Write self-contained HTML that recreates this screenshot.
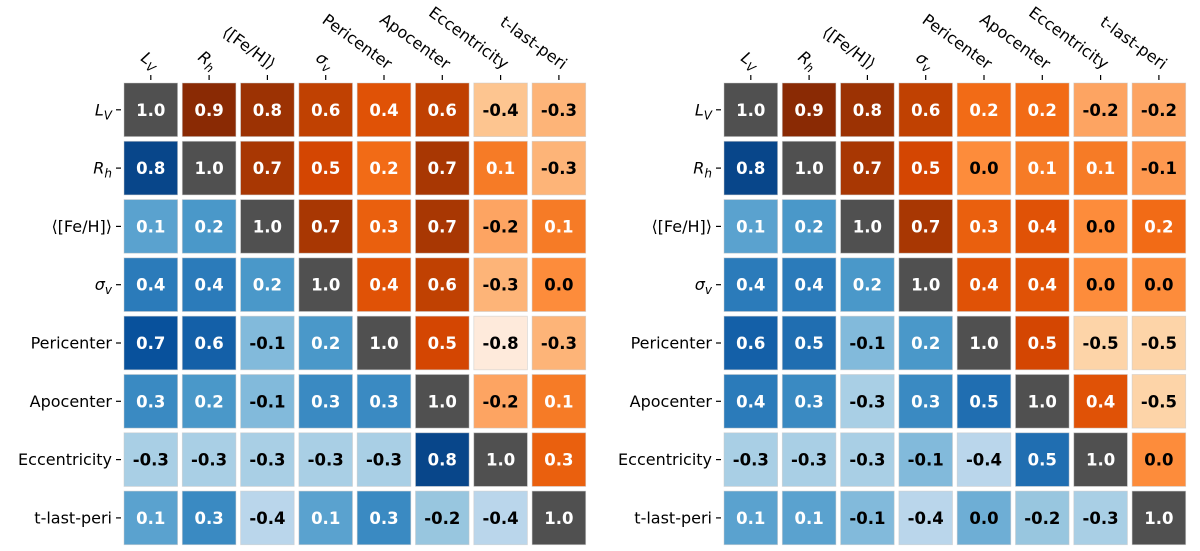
<!DOCTYPE html>
<html><head><meta charset="utf-8">
<style>
html,body{margin:0;padding:0;background:#fff;}
svg{display:block;font-family:"DejaVu Sans","Liberation Sans",sans-serif;}
</style></head>
<body>
<svg id="chart" width="1200" height="551" viewBox="0 0 1200 551" xmlns="http://www.w3.org/2000/svg"></svg>
<script>
const variables = ["L_V","R_h","FeH","sigma_v","Pericenter","Apocenter","Eccentricity","t-last-peri"];
const leftValues = [
 [1.0,0.9,0.8,0.6,0.4,0.6,-0.4,-0.3],
 [0.8,1.0,0.7,0.5,0.2,0.7,0.1,-0.3],
 [0.1,0.2,1.0,0.7,0.3,0.7,-0.2,0.1],
 [0.4,0.4,0.2,1.0,0.4,0.6,-0.3,0.0],
 [0.7,0.6,-0.1,0.2,1.0,0.5,-0.8,-0.3],
 [0.3,0.2,-0.1,0.3,0.3,1.0,-0.2,0.1],
 [-0.3,-0.3,-0.3,-0.3,-0.3,0.8,1.0,0.3],
 [0.1,0.3,-0.4,0.1,0.3,-0.2,-0.4,1.0]
];
const rightValues = [
 [1.0,0.9,0.8,0.6,0.2,0.2,-0.2,-0.2],
 [0.8,1.0,0.7,0.5,0.0,0.1,0.1,-0.1],
 [0.1,0.2,1.0,0.7,0.3,0.4,0.0,0.2],
 [0.4,0.4,0.2,1.0,0.4,0.4,0.0,0.0],
 [0.6,0.5,-0.1,0.2,1.0,0.5,-0.5,-0.5],
 [0.4,0.3,-0.3,0.3,0.5,1.0,0.4,-0.5],
 [-0.3,-0.3,-0.3,-0.1,-0.4,0.5,1.0,0.0],
 [0.1,0.1,-0.1,-0.4,0.0,-0.2,-0.3,1.0]
];

const blueStops = [[-1,"#f7fbff"],[-0.4,"#bad6eb"],[-0.3,"#a9cfe5"],[-0.2,"#98c6df"],[-0.1,"#82badb"],[0.1,"#5aa2cf"],[0.2,"#4a98c9"],[0.3,"#3a8ac2"],[0.4,"#2b7bba"],[0.6,"#1460a8"],[0.7,"#08519c"],[0.8,"#08468a"],[1,"#08306b"]];
const orangeStops = [[-1,"#fff5eb"],[-0.8,"#feeadb"],[-0.5,"#fdd4a8"],[-0.4,"#fdc590"],[-0.3,"#fdb478"],[-0.2,"#fda462"],[0,"#fd8c3b"],[0.1,"#f67b26"],[0.2,"#f26b16"],[0.3,"#ea600e"],[0.4,"#e05206"],[0.5,"#d44602"],[0.6,"#c04102"],[0.7,"#a83703"],[0.8,"#9c3203"],[0.9,"#8a2a04"],[1,"#7f2704"]];
function hx(c){return [1,3,5].map(i=>parseInt(c.substr(i,2),16));}
function interp(stops,v){
  v=Math.max(-1,Math.min(1,v));
  for(let i=0;i<stops.length-1;i++){
    const [a,ca]=stops[i],[b,cb]=stops[i+1];
    if(v>=a&&v<=b){const t=(v-a)/(b-a||1);const A=hx(ca),B=hx(cb);
      return "rgb("+A.map((x,k)=>Math.round(x+(B[k]-x)*t)).join(",")+")";}
  }
  return stops[stops.length-1][1];
}
const NS="http://www.w3.org/2000/svg";
const svg=document.getElementById("chart");
function mk(tag,attrs,parent){const e=document.createElementNS(NS,tag);for(const k in attrs)e.setAttribute(k,attrs[k]);(parent||svg).appendChild(e);return e;}
const pitch=58.3, cell=53.6, top0=83;
function label(t,name){
  if(name==="L_V"){t.innerHTML='<tspan font-style="italic">L</tspan><tspan font-style="italic" font-size="12" dy="4">V</tspan>';}
  else if(name==="R_h"){t.innerHTML='<tspan font-style="italic">R</tspan><tspan font-style="italic" font-size="12" dy="4">h</tspan>';}
  else if(name==="sigma_v"){t.innerHTML='<tspan font-style="italic">σ</tspan><tspan font-style="italic" font-size="12" dy="4">v</tspan>';}
  else if(name==="FeH"){t.textContent="⟨[Fe/H]⟩";}
  else t.textContent=name;
}
function drawPanel(values,x0,pname){
  const g=mk("g",{});
  
  
  const xs=j=>x0+j*pitch, ys=i=>top0+i*pitch;
  values.forEach((row,i)=>row.forEach((v,j)=>{
    let fill;
    if(i===j) fill="#505050"; else if(j>i) fill=interp(orangeStops,v); else fill=interp(blueStops,v);
    const r=mk("rect",{x:xs(j),y:ys(i),width:cell,height:cell,fill:fill,stroke:"rgba(200,200,200,0.6)","stroke-width":0.8},g);
    
    
    const t=mk("text",{x:xs(j)+cell/2,y:ys(i)+cell/2+6,"text-anchor":"middle","font-size":16.5,"font-weight":"bold",fill:(i===j||v>0)?"#ffffff":"#000000"},g);
    t.textContent=v.toFixed(1);
    
    
  }));
  variables.forEach((name,k)=>{
    const cy=ys(k)+cell/2;
    mk("line",{x1:x0-8,x2:x0-3,y1:cy,y2:cy,stroke:"#000","stroke-width":1.2},g);
    const yt=mk("text",{x:x0-12,y:cy+5.5,"text-anchor":"end","font-size":16,fill:"#000"},g);
    label(yt,name);
    
    
    const cx=xs(k)+cell/2;
    mk("line",{x1:cx,x2:cx,y1:75,y2:80,stroke:"#000","stroke-width":1.2},g);
    const xt=mk("text",{x:0,y:0,"text-anchor":"end","font-size":16,fill:"#000",transform:"translate("+(cx+3)+",70) rotate(36)"},g);
    label(xt,name);
    
    
  });
}
drawPanel(leftValues,124,"left-heatmap");
drawPanel(rightValues,724,"right-heatmap");
</script>
</body></html>
